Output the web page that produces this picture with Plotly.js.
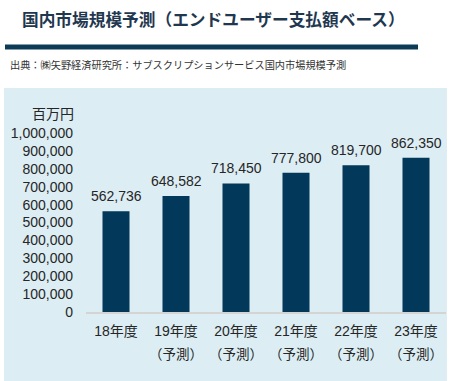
<!DOCTYPE html>
<html>
<head>
<meta charset="utf-8">
<script src="https://cdn.plot.ly/plotly-3.0.1.min.js"></script>
<style>html,body{margin:0;padding:0;background:#fff;}#chart{width:452px;height:381px;}</style>
</head>
<body>
<div id="chart"></div>
<script>
const categories = ["18年度", "19年度", "20年度", "21年度", "22年度", "23年度"];
const subLabels = ["", "（予測）", "（予測）", "（予測）", "（予測）", "（予測）"];
const values = [562736, 648582, 718450, 777800, 819700, 862350];
const valueLabels = ["562,736", "648,582", "718,450", "777,800", "819,700", "862,350"];

const FONT = "Liberation Sans, Arial, 'Noto Sans CJK JP', sans-serif";
const W = 452, H = 381, L = 86, R = 6, T = 133, B = 69;
const PW = W - L - R, PH = H - T - B;
const px = x => (x - L) / PW;
const py = y => (H - B - y) / PH;

const annotations = [];
categories.forEach((c, i) => {
  annotations.push({x: c, y: values[i], xref: 'x', yref: 'y', text: valueLabels[i], showarrow: false,
    yanchor: 'bottom', yshift: 5, font: {family: FONT, size: 14, color: '#262626'}});
  if (subLabels[i]) annotations.push({x: c, y: 0, xref: 'x', yref: 'paper', text: subLabels[i], showarrow: false,
    yanchor: 'middle', yshift: -41, font: {family: "'Noto Sans CJK JP', sans-serif", size: 13.5, color: '#262626'}});
});
annotations.push({x: px(76), y: py(113), xref: 'paper', yref: 'paper', text: '百万円', showarrow: false,
  xanchor: 'right', yanchor: 'middle', font: {family: "'Noto Sans CJK JP', sans-serif", size: 14, color: '#262626'}});
annotations.push({x: px(8), y: py(65), xref: 'paper', yref: 'paper', text: '出典：㈱矢野経済研究所：サブスクリプションサービス国内市場規模予測', showarrow: false,
  xanchor: 'left', yanchor: 'middle', font: {family: "'Noto Sans CJK JP', sans-serif", size: 10.2, color: '#333333'}});

const data = [{
  type: 'bar', x: categories, y: values,
  marker: {color: '#02385a'}, hoverinfo: 'none'
}];

const layout = {
  width: W, height: H,
  margin: {l: L, r: R, t: T, b: B, pad: 0},
  paper_bgcolor: '#ffffff', plot_bgcolor: 'rgba(0,0,0,0)',
  showlegend: false, bargap: 0.55,
  title: {text: '<b>国内市場規模予測（エンドユーザー支払額ベース）</b>', xref: 'container', yref: 'container',
    x: 22 / W, xanchor: 'left', y: 1 - 20 / H, yanchor: 'middle',
    font: {family: "'Noto Sans CJK JP', sans-serif", size: 16.7, color: '#1f3850'}},
  xaxis: {type: 'category', showgrid: false, zeroline: false, showline: true, linecolor: '#d4d4d4', linewidth: 2,
    ticks: '', ticklabelstandoff: 5, tickfont: {family: FONT, size: 14, color: '#262626'}, fixedrange: true},
  yaxis: {range: [0, 1000000], dtick: 100000, tickformat: ',d', showgrid: false, zeroline: false, showline: false,
    ticks: '', ticklabelstandoff: 12, tickfont: {family: FONT, size: 14, color: '#262626'}, fixedrange: true},
  shapes: [
    {type: 'rect', xref: 'paper', yref: 'paper', x0: px(4), x1: px(447), y0: py(381), y1: py(88),
      fillcolor: '#dcedf4', line: {width: 0}, layer: 'below'},
    {type: 'rect', xref: 'paper', yref: 'paper', x0: px(5), x1: px(418), y0: py(49.5), y1: py(44.5),
      fillcolor: '#0d3a57', line: {width: 0}, layer: 'below'}
  ],
  annotations: annotations
};

Plotly.newPlot('chart', data, layout, {displayModeBar: false, staticPlot: true});
</script>
</body>
</html>
